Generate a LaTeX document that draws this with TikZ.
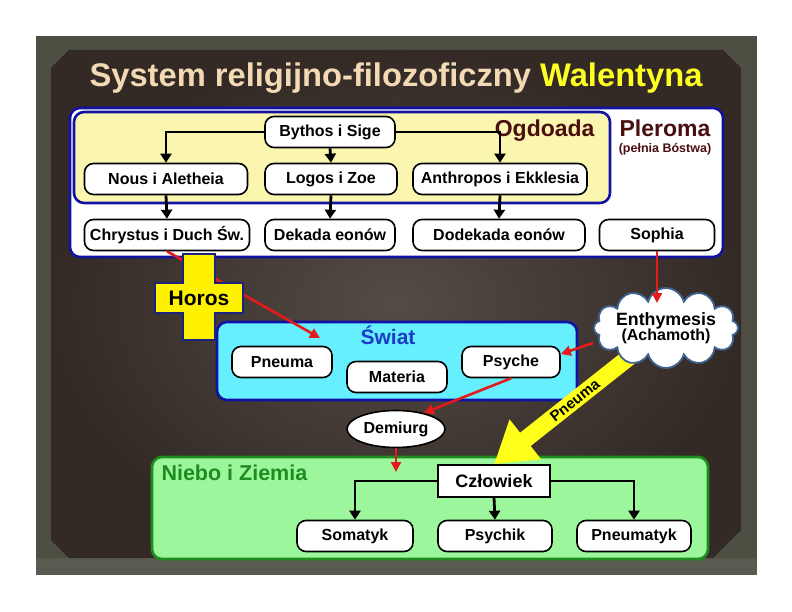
\documentclass[tikz,border=0pt]{standalone}
\usepackage{fontspec}
\setmainfont{Liberation Sans}
\usetikzlibrary{arrows.meta}
\usetikzlibrary{shapes.symbols}
\usetikzlibrary{shapes.geometric}
\definecolor{frame}{HTML}{4D4F43}
\definecolor{paneldark}{HTML}{332A26}
\definecolor{panellight}{HTML}{544B45}
\definecolor{titlecol}{HTML}{F3DAB4}
\definecolor{walyellow}{HTML}{FFFF22}
\definecolor{navy}{HTML}{1212A2}
\definecolor{crossnavy}{HTML}{1A237E}
\definecolor{ogdyellow}{HTML}{FAF6B0}
\definecolor{maroon}{HTML}{4A0E0E}
\definecolor{swiatcyan}{HTML}{66F0FF}
\definecolor{swiatblue}{HTML}{1B3CC8}
\definecolor{zgreen}{HTML}{1E8C1E}
\definecolor{zlight}{HTML}{9CF79C}
\definecolor{arrred}{HTML}{E31B1B}
\definecolor{pneumayellow}{HTML}{FFFF1A}
\definecolor{cloudborder}{HTML}{3E6496}
\newcommand{\fs}[1]{\fontsize{#1}{#1}\selectfont\bfseries}
\tikzset{
  eon/.style={draw, fill=white, rounded corners=9pt, line width=1.6pt,
    minimum height=31pt, inner sep=2pt, font=\fs{16}},
  region/.style={draw=navy, line width=2.6pt, rounded corners=10pt},
  tree/.style={line width=2.8pt, -{Triangle[length=9pt,width=11pt]}},
  flow/.style={draw=arrred, line width=2.6pt, -{Triangle[length=10pt,width=10pt]}},
  pneumaarrow/.style={draw=pneumayellow, line width=17pt, -{Triangle[length=40pt,width=48pt]}}
}
\begin{document}
\begin{tikzpicture}[x=1pt,y=-1pt]
  \useasboundingbox (0,0) rectangle (792,612);
  \fill[white] (0,0) rectangle (792,612);
  \fill[frame] (36,36) rectangle (757,575);
  \fill[frame!93!white] (36,558) rectangle (757,575);
  \shade[inner color=panellight, outer color=paneldark]
    (51,68) -- (69,50) -- (723,50) -- (741,68) -- (741,530) -- (713,558) -- (69,558) -- (51,540) -- cycle;

  \node[anchor=base, font=\fs{32.7}, text=titlecol] (title) at (396,87)
    {System religijno-filozoficzny \textcolor{walyellow}{Walentyna}};

  \node[region, fill=white, minimum width=653pt, minimum height=149pt] (pleroma) at (396.5,182.5) {};
  \node[region, fill=ogdyellow, minimum width=536pt, minimum height=91pt] (ogdoada) at (342,157.5) {};
  \node[anchor=base east, font=\fs{23}, text=maroon] at (598,137) {Ogdoada};
  \node[anchor=base west, font=\fs{23}, text=maroon] at (616,137) {Pleroma};
  \node[anchor=base, font=\fs{12.5}, text=maroon] at (665,153) {(pełnia Bóstwa)};

  \node[eon, minimum width=130pt] (bythos) at (330,132) {Bythos i Sige};
  \node[eon, minimum width=163pt] (nous) at (166,179) {Nous i Aletheia};
  \node[eon, minimum width=132pt] (logos) at (331,179) {Logos i Zoe};
  \node[eon, minimum width=174pt] (anthropos) at (500,179) {Anthropos i Ekklesia};
  \node[eon, minimum width=165pt] (chrystus) at (167,235) {Chrystus i Duch Św.};
  \node[eon, minimum width=130pt] (dekada) at (330,235) {Dekada eonów};
  \node[eon, minimum width=172pt] (dodekada) at (499,235) {Dodekada eonów};
  \node[eon, minimum width=115pt] (sophia) at (657,235) {Sophia};

  \draw[tree] (bythos.west) -| (nous.north);
  \draw[tree] (bythos.east) -| (anthropos.north);
  \draw[tree] (bythos.south) -- (logos.north);
  \draw[tree] (nous.south) -- (chrystus.north);
  \draw[tree] (logos.south) -- (dekada.north);
  \draw[tree] (anthropos.south) -- (dodekada.north);

  \node[region, fill=swiatcyan, minimum width=360pt, minimum height=78pt] (swiat) at (397,361) {};
  \node[anchor=base, font=\fs{21}, text=swiatblue] at (388,344) {Świat};
  \node[eon, minimum width=100pt] (pneuma) at (282,362) {Pneuma};
  \node[eon, minimum width=100pt] (materia) at (397,377) {Materia};
  \node[eon, minimum width=98pt] (psyche) at (511,362) {Psyche};

  \coordinate (swiatin) at (320,338);
  \draw[flow] (chrystus.south) -- (swiatin);
  \filldraw[fill=yellow, draw=crossnavy, line width=1.6pt]
    (183,254) -- (215,254) -- (215,283) -- (243,283) -- (243,313) -- (215,313) -- (215,340)
    -- (183,340) -- (183,313) -- (155,313) -- (155,283) -- (183,283) -- cycle;
  \node[font=\fs{21}] (horos) at (199,298) {Horos};

  \node[draw, ellipse, fill=white, line width=1.6pt, minimum width=98pt, minimum height=37pt,
    inner sep=0pt, font=\fs{16}] (demiurg) at (396,429) {Demiurg};

  \node[region, draw=zgreen, fill=zlight, minimum width=556pt, minimum height=102pt] (niebo) at (430,508) {};
  \node[anchor=base west, font=\fs{21.5}, text=zgreen] at (158,480) {Niebo i Ziemia};
  \node[draw, fill=white, line width=1.6pt, minimum width=112pt, minimum height=32pt,
    font=\fs{18}] (czlowiek) at (494,481) {Człowiek};
  \node[eon, minimum width=116pt] (somatyk) at (355,536) {Somatyk};
  \node[eon, minimum width=114pt] (psychik) at (495,536) {Psychik};
  \node[eon, minimum width=114pt] (pneumatyk) at (634,536) {Pneumatyk};

  \draw[tree] (czlowiek.west) -| (somatyk.north);
  \draw[tree] (czlowiek.east) -| (pneumatyk.north);
  \draw[tree] (czlowiek.south) -- (psychik.north);

  \coordinate (enthc) at (666,328);
  \draw[pneumaarrow] (enthc) -- (czlowiek.north)
    node[pos=0.53, sloped, font=\fs{15}] {Pneuma};
  \node[cloud, cloud puffs=12, aspect=2.1, draw=cloudborder, fill=white, line width=1.8pt,
    inner sep=-7pt, minimum width=144pt, minimum height=73pt, align=center] (enth) at (enthc)
    {{\fs{17.8}Enthymesis}\\[-1pt]{\fs{16}(Achamoth)}};

  \coordinate (enthin) at (657,303);
  \coordinate (zin) at (396,472);
  \draw[flow] (sophia.south) -- (enthin);
  \draw[flow] ([yshift=-15pt]enth.west) -- ([yshift=8pt]psyche.east);
  \draw[flow] (psyche.south) -- (demiurg.30);
  \draw[flow] (demiurg.south) -- (zin);
\end{tikzpicture}
\end{document}
